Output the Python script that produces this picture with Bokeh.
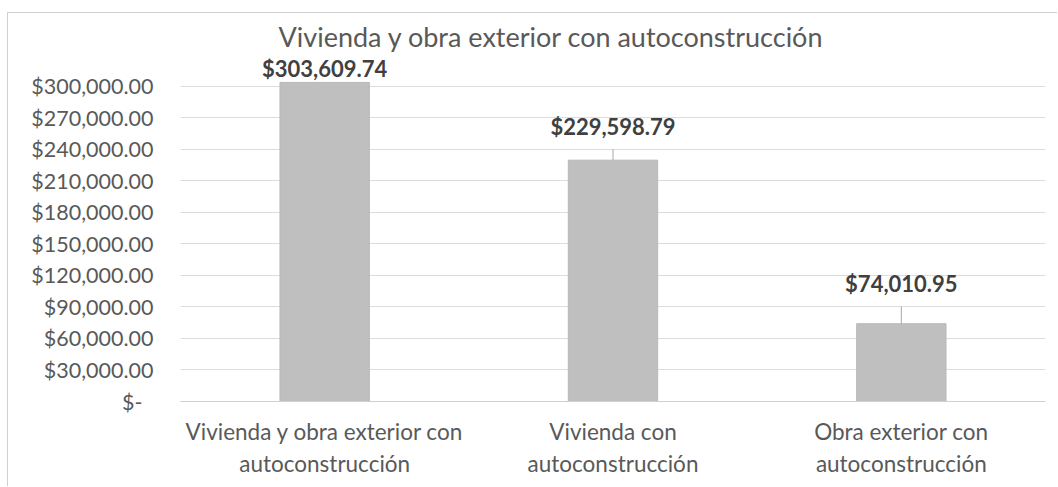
from bokeh.plotting import figure
from bokeh.models import FixedTicker, CustomJSTickFormatter, ColumnDataSource, Title
from bokeh.core.properties import value
from bokeh.embed import file_html
from bokeh.resources import INLINE

categories = ["Vivienda y obra exterior con\nautoconstrucción",
              "Vivienda con\nautoconstrucción",
              "Obra exterior con\nautoconstrucción"]
values = [303609.74, 229598.79, 74010.95]
labels = ["$303,609.74", "$229,598.79", "$74,010.95"]
y_ticks = [0, 30000, 60000, 90000, 120000, 150000, 180000, 210000, 240000, 270000, 300000]

FONT = "Lato"
TXT = "#595959"
Y_END = 326350
FRAME_H = 343

p = figure(x_range=categories, y_range=(0, Y_END), width=1050, height=474,
           output_backend="svg", toolbar_location=None,
           min_border_left=172, min_border_right=13, min_border_top=45, min_border_bottom=86)
p.styles = {"margin-left": "7px", "margin-top": "12px",
            "border-top": "1px solid #d0d0d0", "border-left": "1px solid #d0d0d0"}

src = ColumnDataSource(dict(x=categories, top=values, lab=labels))
p.vbar(x="x", top="top", width=0.31, source=src, fill_color="#bfbfbf", line_color="#b8b8b8")

# data labels with leader lines
lab_off = [-14, -34, -40]
lead_len = [0, 11, 17]
for c, v, t, off, ll in zip(categories, values, labels, lab_off, lead_len):
    if ll:
        p.segment(x0=[c], y0=[v], x1=[c], y1=[v + ll * Y_END / FRAME_H],
                  line_color="#a6a6a6", line_width=1)
    p.text(x=[c], y=[v], text=[t], y_offset=off, text_align="center", text_baseline="alphabetic",
           text_font=value(FONT), text_font_size="22px", text_font_style="bold", text_color="#404040")

p.title = Title(text="Vivienda y obra exterior con autoconstrucción", align="left",
                text_font=FONT, text_font_size="27px", text_font_style="normal",
                text_color=TXT, standoff=8, offset=98, vertical_align="top")

p.yaxis.ticker = FixedTicker(ticks=y_ticks)
p.yaxis.formatter = CustomJSTickFormatter(code="""
if (tick == 0) { return "$-  "; }
return "$" + tick.toLocaleString("en-US", {minimumFractionDigits: 2, maximumFractionDigits: 2});
""")
p.yaxis.axis_line_color = None
p.yaxis.major_tick_line_color = None
p.yaxis.minor_tick_line_color = None
p.yaxis.major_label_text_font = FONT
p.yaxis.major_label_text_font_size = "21.5px"
p.yaxis.major_label_text_color = TXT
p.yaxis.major_label_standoff = 21

p.xaxis.axis_line_color = "#d0d0d0"
p.xaxis.major_tick_line_color = None
p.xaxis.minor_tick_line_color = None
p.xaxis.major_label_text_font = FONT
p.xaxis.major_label_text_font_size = "22.5px"
p.xaxis.major_label_text_color = TXT
p.xaxis.major_label_standoff = 10

p.xgrid.grid_line_color = None
p.ygrid.grid_line_color = "#dcdcdc"
p.outline_line_color = None
p.x_range.range_padding = 0

open("out.html", "w").write(file_html(p, INLINE))
